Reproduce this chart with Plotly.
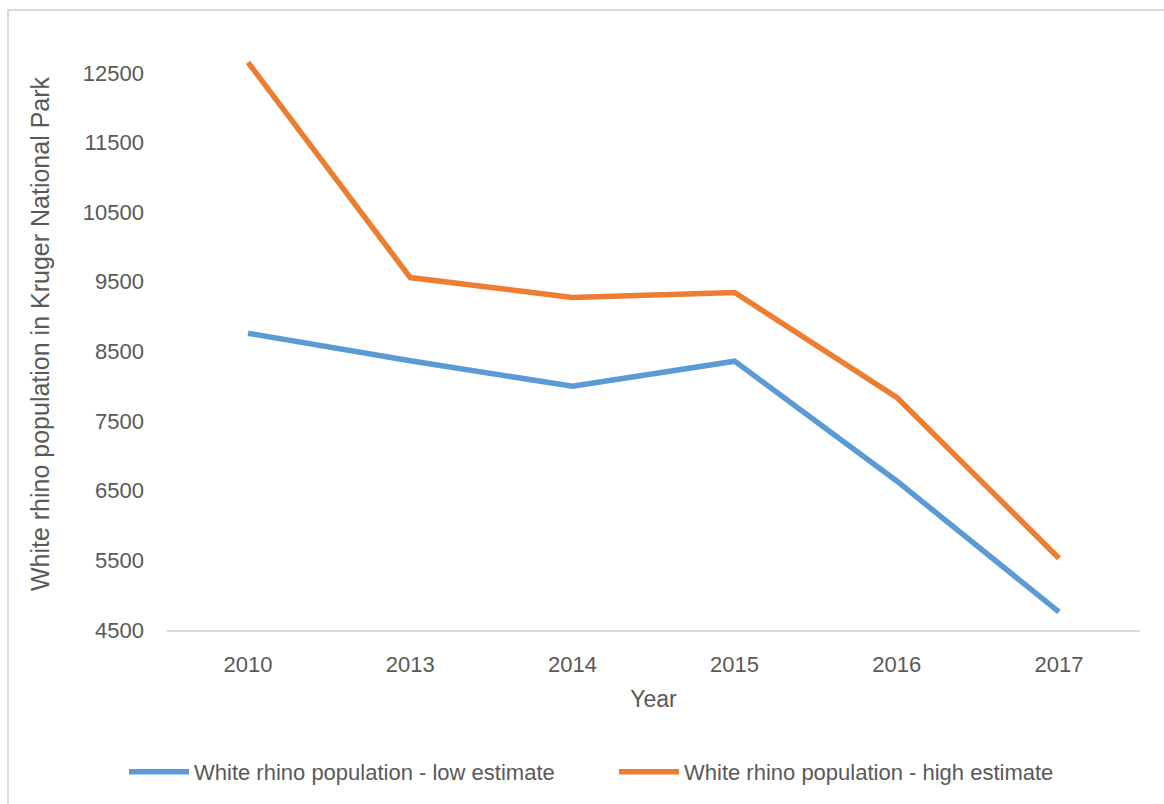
import plotly.graph_objects as go

# Survey years and population estimates for white rhino in Kruger National Park
years = ["2010", "2013", "2014", "2015", "2016", "2017"]
low_estimate = [8760, 8365, 8000, 8360, 6640, 4760]
high_estimate = [12650, 9560, 9275, 9345, 7840, 5530]
y_ticks = [4500, 5500, 6500, 7500, 8500, 9500, 10500, 11500, 12500]

FONT = "Liberation Sans, Arial, sans-serif"
GREY_TEXT = "#595959"
GREY_LINE = "#d9d9d9"

fig = go.Figure()
fig.add_trace(go.Scatter(
    x=years, y=low_estimate, mode="lines",
    name="White rhino population - low estimate",
    line=dict(color="#5b9bd5", width=5.5),
))
fig.add_trace(go.Scatter(
    x=years, y=high_estimate, mode="lines",
    name="White rhino population - high estimate",
    line=dict(color="#ed7d31", width=5.5),
))

# Plot area geometry (pixels) used for the outer chart frame
L, R, T, B = 167, 24, 38, 173
W, H = 1164, 804
pw, ph = W - L - R, H - T - B

def px_x(x):
    return (x - L) / pw

def px_y(y):
    return (H - B - y) / ph

fig.add_shape(
    type="rect", xref="paper", yref="paper",
    x0=px_x(8), x1=px_x(1175), y0=px_y(10), y1=px_y(815),
    line=dict(color=GREY_LINE, width=2), fillcolor="rgba(0,0,0,0)",
    layer="below",
)

fig.update_layout(
    width=W, height=H,
    margin=dict(l=L, r=R, t=T, b=B),
    paper_bgcolor="white", plot_bgcolor="white",
    font=dict(family=FONT, color=GREY_TEXT, size=22),
    showlegend=True,
    legend=dict(
        orientation="h", xanchor="left", yanchor="middle",
        x=px_x(124), y=px_y(772),
        font=dict(size=22, color=GREY_TEXT),
        itemwidth=60, tracegroupgap=0,
        entrywidth=415, entrywidthmode="pixels",
    ),
    xaxis=dict(
        type="category", range=[-0.5, 5.5],
        showgrid=False, zeroline=False,
        showline=True, linecolor=GREY_LINE, linewidth=2,
        ticks="", ticklabelstandoff=14,
        tickfont=dict(size=22, color=GREY_TEXT),
        title=dict(text="Year", font=dict(size=23, color=GREY_TEXT), standoff=14),
    ),
    yaxis=dict(
        range=[4500, 13000], showgrid=False, zeroline=False, showline=False,
        tickmode="array", tickvals=y_ticks, ticktext=[str(v) for v in y_ticks],
        ticks="", ticklabelstandoff=22,
        tickfont=dict(size=22, color=GREY_TEXT),
        title=dict(text="White rhino population in Kruger National Park",
                   font=dict(size=25, color=GREY_TEXT), standoff=26),
    ),
)

fig.write_html("out.html")
